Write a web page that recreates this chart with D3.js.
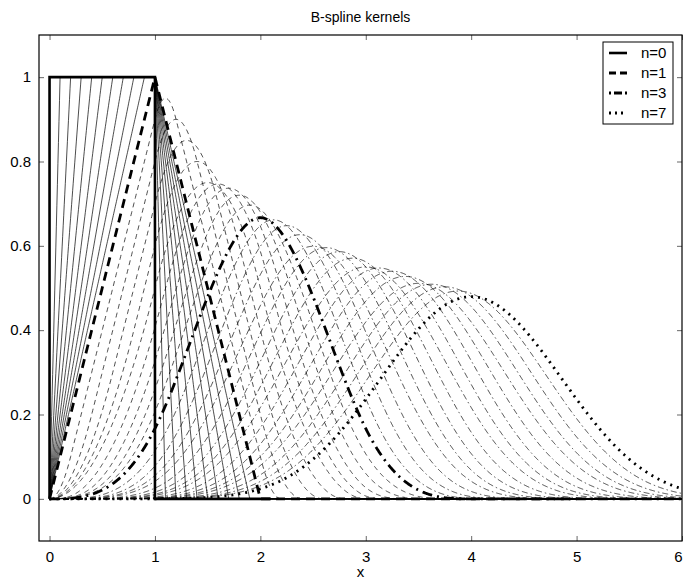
<!DOCTYPE html>
<html>
<head>
<meta charset="utf-8">
<script src="https://cdn.jsdelivr.net/npm/d3@7/dist/d3.min.js"></script>
<style>
  body { margin: 0; background: #fff; }
  svg { font-family: "Liberation Sans", Arial, Helvetica, sans-serif; }
</style>
</head>
<body>
<svg id="chart" width="685" height="580"></svg>
<script>
// kernel orders (alpha = n + eps, box-convolution between B-spline degrees)
const highlightOrders = [0, 1, 3, 7];
const highlightLabels = ['n=0', 'n=1', 'n=3', 'n=7'];
const highlightEnds = [2.1, 5, 6, 6];
const thinSolidOrders = [0.1, 0.2, 0.3, 0.4, 0.5, 0.6, 0.7, 0.8, 0.9];
const thinDashedOrders = [1.2, 1.4, 1.6, 1.8, 2, 2.2, 2.4, 2.6, 2.8];
const thinDashDotOrders = [3.25, 3.5, 3.75, 4, 4.25, 4.5, 4.75, 5, 5.25, 5.5, 5.75, 6, 6.25, 6.5, 6.75];
const xTicks = [0, 1, 2, 3, 4, 5, 6];
const yTicks = [0, 0.2, 0.4, 0.6, 0.8, 1];

const svg = d3.select('#chart'),
	margin = {top: 35, right: 3, bottom: 39, left: 39},
	width = +svg.attr('width') - margin.left - margin.right,
	height = +svg.attr('height') - margin.top - margin.bottom;

const x = d3.scaleLinear().domain([-0.1, 6]).range([margin.left, margin.left + width]),
	y = d3.scaleLinear().domain([-0.1, 1.1]).range([margin.top + height, margin.top]);

const fact = n => n <= 1 ? 1 : n * fact(n - 1);
const binom = (n, k) => fact(n) / (fact(k) * fact(n - k));
const tpow = (t, p) => t < 0 ? 0 : (p === 0 ? 1 : Math.pow(t, p));

// B-spline of integer degree n
function bspline(n, t) {
	let s = 0;
	for (let k = 0; k <= n + 1; k++) s += (k % 2 ? -1 : 1) * binom(n + 1, k) * tpow(t - k, n);
	return s / fact(n);
}
// running integral of the degree-n B-spline
function bsplineInt(n, t) {
	let s = 0;
	for (let k = 0; k <= n + 1; k++) s += (k % 2 ? -1 : 1) * binom(n + 1, k) * tpow(t - k, n + 1);
	return s / fact(n + 1);
}
// degree-n B-spline smoothed by a box of width eps
function kernel(alpha, t) {
	const n = Math.floor(alpha + 1e-9), eps = alpha - n;
	if (t < 0 || t > n + 1 + eps) return 0;
	if (eps < 1e-9) return bspline(n, t);
	return (bsplineInt(n, t) - bsplineInt(n, t - eps)) / eps;
}

function samples(alpha, end) {
	const n = Math.floor(alpha + 1e-9), eps = alpha - n;
	let xs = d3.range(-0.0005, end, 0.005);
	for (let k = 0; k <= n + 1; k++) {
		[k, k + eps].forEach(b => { if (b <= end) xs.push(b - 1e-7, b + 1e-7); });
	}
	xs.push(end);
	xs = xs.sort((a, b) => a - b);
	return xs.map(t => ({x: t, y: kernel(alpha, t)}));
}

const line = d3.line().x(d => x(d.x)).y(d => y(d.y));

svg.append('rect')
	.attr('x', margin.left).attr('y', margin.top)
	.attr('width', width).attr('height', height)
	.attr('fill', '#fff');

const plot = svg.append('g');
plot.append('clipPath').attr('id', 'clip')
	.append('rect')
	.attr('x', margin.left).attr('y', margin.top)
	.attr('width', width).attr('height', height);
const curves = plot.append('g').attr('clip-path', 'url(#clip)');

const thinSets = [
	{orders: thinSolidOrders, dash: null},
	{orders: thinDashedOrders, dash: '5,4'},
	{orders: thinDashDotOrders, dash: '6,3,1.5,3'}
];
thinSets.forEach(set => {
	set.orders.forEach(a => {
		curves.append('path')
			.datum(samples(a, 6))
			.attr('fill', 'none')
			.attr('stroke', '#000')
			.attr('stroke-width', 0.7)
			.attr('stroke-dasharray', set.dash)
			.attr('d', line);
	});
});

const thickStyles = [
	{dash: null, w: 2.6},
	{dash: '9,6', w: 2.8},
	{dash: '10,5,2,5', w: 2.8},
	{dash: '2,5', w: 2.8}
];
highlightOrders.forEach((a, i) => {
	curves.append('path')
		.datum(samples(a, highlightEnds[i]))
		.attr('fill', 'none')
		.attr('stroke', '#000')
		.attr('stroke-width', thickStyles[i].w)
		.attr('stroke-dasharray', thickStyles[i].dash)
		.attr('d', line);
});

// axes with inward ticks on all four sides
const axisStyle = g => {
	g.select('.domain').remove();
	g.selectAll('.tick line').attr('stroke', '#000').attr('stroke-width', 0.6);
	g.selectAll('.tick text').attr('fill', '#000').attr('font-size', 15)
		.attr('font-family', '"Liberation Sans", Arial, sans-serif');
};
svg.append('g')
	.attr('transform', `translate(0, ${margin.top + height})`)
	.call(d3.axisBottom(x).tickValues(xTicks).tickSize(-5).tickPadding(10).tickFormat(d3.format('d')))
	.call(axisStyle)
	.selectAll('.tick text')
	.attr('dx', d => d === xTicks[xTicks.length - 1] ? -4 : 0);
svg.append('g')
	.attr('transform', `translate(0, ${margin.top})`)
	.call(d3.axisTop(x).tickValues(xTicks).tickSize(-5).tickFormat(''))
	.call(axisStyle);
svg.append('g')
	.attr('transform', `translate(${margin.left}, 0)`)
	.call(d3.axisLeft(y).tickValues(yTicks).tickSize(-5).tickPadding(8).tickFormat(d3.format('~g')))
	.call(axisStyle);
svg.append('g')
	.attr('transform', `translate(${margin.left + width}, 0)`)
	.call(d3.axisRight(y).tickValues(yTicks).tickSize(-5).tickFormat(''))
	.call(axisStyle);

svg.append('rect')
	.attr('x', margin.left).attr('y', margin.top)
	.attr('width', width).attr('height', height)
	.attr('fill', 'none').attr('stroke', '#000').attr('stroke-width', 1.2);

// title and label
svg.append('text')
	.attr('x', margin.left + width / 2).attr('y', 22)
	.attr('text-anchor', 'middle').attr('font-size', 14)
	.text('B-spline kernels');
svg.append('text')
	.attr('x', margin.left + width / 2).attr('y', 577)
	.attr('text-anchor', 'middle').attr('font-size', 15)
	.text('x');

// legend
const lg = svg.append('g').attr('transform', 'translate(603, 42)');
lg.append('rect')
	.attr('width', 70).attr('height', 82)
	.attr('fill', '#fff').attr('stroke', '#000').attr('stroke-width', 1);
highlightLabels.forEach((lab, i) => {
	const yy = 11 + i * 20;
	lg.append('line')
		.attr('x1', 6).attr('x2', 24).attr('y1', yy).attr('y2', yy)
		.attr('stroke', '#000')
		.attr('stroke-width', thickStyles[i].w)
		.attr('stroke-dasharray', i === 1 ? '7,4' : i === 2 ? '2,3,8,3,2' : i === 3 ? '2,4' : null);
	lg.append('text')
		.attr('x', 38).attr('y', yy + 5)
		.attr('font-size', 15)
		.text(lab);
});
</script>
</body>
</html>
